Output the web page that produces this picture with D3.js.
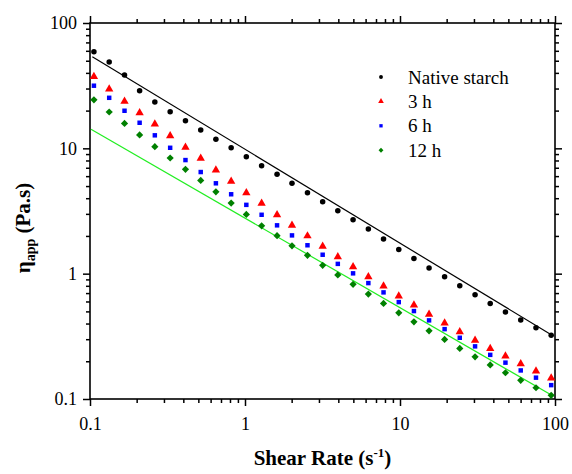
<!DOCTYPE html>
<html>
<head>
<meta charset="utf-8">
<script src="https://cdn.jsdelivr.net/npm/d3@7"></script>
<style>
  body { margin: 0; background: #fff; }
  svg text { font-family: "Liberation Serif", Tinos, "Times New Roman", Times, "DejaVu Serif", serif !important; }
</style>
</head>
<body>
<div id="chart"></div>
<script>
// shear rate (1/s)
var shearRate = [0.106, 0.133, 0.167, 0.209, 0.262, 0.329, 0.413, 0.518, 0.649, 0.814,
                 1.02, 1.28, 1.61, 2.01, 2.53, 3.17, 3.97, 4.98, 6.25, 7.83,
                 9.82, 12.3, 15.4, 19.4, 24.3, 30.5, 38.2, 47.9, 60.1, 75.4, 94.5];

// apparent viscosity (Pa.s)
var nativeStarch = [59.0, 48.8, 38.5, 28.8, 23.4, 19.6, 16.6, 14.0, 11.8, 10.1,
                    8.57, 7.26, 6.20, 5.26, 4.43, 3.75, 3.18, 2.69, 2.27, 1.89,
                    1.56, 1.32, 1.11, 0.944, 0.800, 0.679, 0.579, 0.494, 0.427, 0.370, 0.322];
var hours3 = [37.3, 29.7, 23.7, 19.2, 15.6, 12.6, 10.2, 8.32, 6.71, 5.45,
              4.42, 3.64, 2.95, 2.43, 2.00, 1.65, 1.36, 1.135, 0.944, 0.796,
              0.662, 0.561, 0.473, 0.404, 0.344, 0.294, 0.253, 0.220, 0.191, 0.167, 0.147];
var hours6 = [31.6, 25.3, 19.95, 16.0, 12.7, 10.1, 8.06, 6.47, 5.26, 4.30,
              3.54, 2.95, 2.43, 2.02, 1.685, 1.416, 1.197, 1.006, 0.841, 0.709,
              0.593, 0.503, 0.424, 0.361, 0.308, 0.263, 0.225, 0.195, 0.169, 0.148, 0.129];
var hours12 = [24.4, 19.5, 15.8, 12.8, 10.3, 8.37, 6.80, 5.55, 4.50, 3.66,
               2.97, 2.41, 2.01, 1.667, 1.400, 1.165, 0.978, 0.822, 0.687, 0.579,
               0.487, 0.413, 0.350, 0.299, 0.253, 0.217, 0.187, 0.162, 0.141, 0.123, 0.107];

// power-law fit lines, end points [shear rate, viscosity]
var fitNative = [[0.1035, 53.8], [95.2, 0.3236]];
var fit12h = [[0.1015, 14.2], [96.6, 0.106]];

var xTicks = [0.1, 1, 10, 100];
var yTicks = [0.1, 1, 10, 100];
var legendLabels = ["Native starch", "3 h", "6 h", "12 h"];

var serif = "'Liberation Serif', Tinos, 'Times New Roman', Times, 'DejaVu Serif', serif";

var svgWidth = 572, svgHeight = 474;
var margin = {top: 23, right: 17, bottom: 75, left: 90};
var width = svgWidth - margin.left - margin.right;
var height = svgHeight - margin.top - margin.bottom;

var x = d3.scaleLog().domain([0.1, 100]).range([0, width]);
var y = d3.scaleLog().domain([0.1, 100]).range([height, 0]);

var svg = d3.select("#chart").append("svg")
    .attr("width", svgWidth)
    .attr("height", svgHeight)
    .attr("font-family", serif)
    .append("g")
    .attr("transform", `translate(${margin.left}, ${margin.top})`);

// minor ticks: everything log scale offers that is not a decade
var xMinor = x.ticks().filter(function (d) { return xTicks.indexOf(d) < 0; });
var yMinor = y.ticks().filter(function (d) { return yTicks.indexOf(d) < 0; });
var fmt = function (d) { return d; };

function styleAxis(g) {
    g.attr("font-family", serif);
    g.select(".domain").remove();
    g.selectAll("line").attr("stroke", "#000").attr("stroke-width", 1.5);
    g.selectAll("text").attr("fill", "#000").style("font-size", "18px");
}

// bottom
svg.append("g").attr("transform", `translate(0, ${height})`)
    .call(d3.axisBottom(x).tickValues(xTicks).tickSize(7).tickPadding(11).tickFormat(fmt))
    .call(styleAxis);
svg.append("g").attr("transform", `translate(0, ${height})`)
    .call(d3.axisBottom(x).tickValues(xMinor).tickSize(4).tickFormat(""))
    .call(styleAxis);
// top
svg.append("g")
    .call(d3.axisTop(x).tickValues(xTicks).tickSize(7).tickFormat(""))
    .call(styleAxis);
svg.append("g")
    .call(d3.axisTop(x).tickValues(xMinor).tickSize(4).tickFormat(""))
    .call(styleAxis);
// left
svg.append("g")
    .call(d3.axisLeft(y).tickValues(yTicks).tickSize(7).tickPadding(6).tickFormat(fmt))
    .call(styleAxis);
svg.append("g")
    .call(d3.axisLeft(y).tickValues(yMinor).tickSize(4).tickFormat(""))
    .call(styleAxis);
// right
svg.append("g").attr("transform", `translate(${width}, 0)`)
    .call(d3.axisRight(y).tickValues(yTicks).tickSize(7).tickFormat(""))
    .call(styleAxis);
svg.append("g").attr("transform", `translate(${width}, 0)`)
    .call(d3.axisRight(y).tickValues(yMinor).tickSize(4).tickFormat(""))
    .call(styleAxis);

// frame
svg.append("rect")
    .attr("width", width)
    .attr("height", height)
    .attr("fill", "none")
    .attr("stroke", "#000")
    .attr("stroke-width", 1.6);

// fit lines
var line = d3.line()
    .x(function (d) { return x(d[0]); })
    .y(function (d) { return y(d[1]); });

svg.append("path").datum(fitNative)
    .attr("d", line).attr("fill", "none").attr("stroke", "#000").attr("stroke-width", 1.2);
svg.append("path").datum(fit12h)
    .attr("d", line).attr("fill", "none").attr("stroke", "#22ee22").attr("stroke-width", 1.2);

function pairs(values) {
    return values.map(function (v, i) { return [shearRate[i], v]; });
}

// symbols; diamond is a square turned 45 degrees
var symCircle = d3.symbol().type(d3.symbolCircle).size(24);
var symTri = d3.symbol().type(d3.symbolTriangle).size(30);
var symSquare = d3.symbol().type(d3.symbolSquare).size(20);
var symDiamond = d3.symbol().type(d3.symbolSquare).size(26);

var series = [
    {data: nativeStarch, sym: symCircle, color: "#000000", rot: 0},
    {data: hours3, sym: symTri, color: "#ff0000", rot: 0},
    {data: hours6, sym: symSquare, color: "#0000ff", rot: 0},
    {data: hours12, sym: symDiamond, color: "#008000", rot: 45}
];

series.forEach(function (s) {
    svg.append("g").selectAll("path")
        .data(pairs(s.data))
        .enter().append("path")
        .attr("d", s.sym)
        .attr("fill", s.color)
        .attr("transform", function (d) {
            return `translate(${x(d[0])}, ${y(d[1])}) rotate(${s.rot})`;
        });
});

// legend
var legendSyms = [
    d3.symbol().type(d3.symbolCircle).size(12),
    d3.symbol().type(d3.symbolTriangle).size(14),
    d3.symbol().type(d3.symbolSquare).size(11),
    d3.symbol().type(d3.symbolSquare).size(12)
];
var legend = svg.append("g").attr("transform", "translate(291, 54)");
legendLabels.forEach(function (label, i) {
    var row = legend.append("g").attr("transform", `translate(0, ${i * 24.4})`);
    row.append("path").attr("d", legendSyms[i]).attr("fill", series[i].color)
        .attr("transform", `rotate(${series[i].rot})`);
    row.append("text").attr("x", 27).attr("dy", "0.35em")
        .style("font-size", "19px").text(label);
});

// axis titles
var xLabel = svg.append("text")
    .attr("x", width / 2)
    .attr("y", height + 66)
    .attr("text-anchor", "middle")
    .style("font-size", "21px").style("font-weight", "bold");
xLabel.append("tspan").text("Shear Rate (s");
xLabel.append("tspan").attr("dy", -8).style("font-size", "13px").text("-1");
xLabel.append("tspan").attr("dy", 8).text(")");

var yLabel = svg.append("text")
    .attr("transform", `translate(${-60}, ${height / 2 + 17}) rotate(-90)`)
    .attr("text-anchor", "middle")
    .style("font-size", "21px").style("font-weight", "bold");
yLabel.append("tspan").text("η");
yLabel.append("tspan").attr("dy", 5).style("font-size", "14px").text("app");
yLabel.append("tspan").attr("dy", -5).text(" (Pa.s)");
</script>
</body>
</html>
